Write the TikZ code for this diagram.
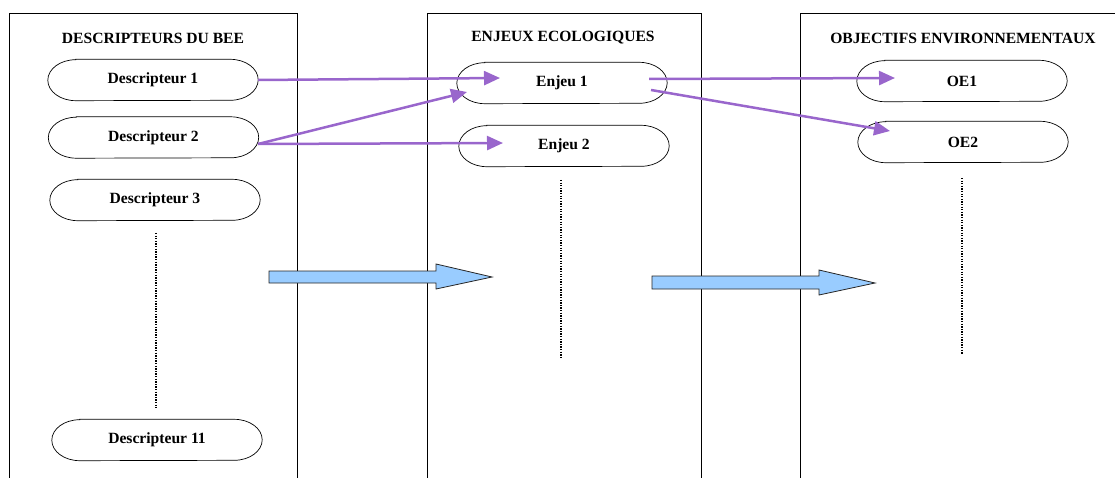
\documentclass[tikz,border=0pt]{standalone}
\usepackage{fontspec}
\setmainfont{Liberation Serif}
\usetikzlibrary{arrows.meta}
\definecolor{lien}{RGB}{153,102,204}
\definecolor{bleu}{RGB}{153,204,255}

\begin{document}
\begin{tikzpicture}[x=1pt,y=-1pt,
  pill/.style={minimum width=210pt,minimum height=41pt,
    font=\fontsize{15.6}{18}\selectfont\bfseries},
  titre/.style={font=\fontsize{15.6}{18}\selectfont\bfseries},
  lien/.style={draw=lien,line width=2.5pt,-{Triangle[length=16pt,width=14pt]}},
  fleche/.style={draw=black!85,fill=bleu,line width=0.8pt},
  pointille/.style={line width=1.3pt,dash pattern=on 1.3pt off 1.3pt}]
\useasboundingbox (0,0) rectangle (1115,478);

% les trois colonnes
\draw[line width=0.8pt] (9,478) -- (9,13) -- (297,13) -- (297,478);
\draw[line width=0.8pt] (427,478) -- (427,13) -- (701,13) -- (701,478);
\draw[line width=0.8pt] (800,478) -- (800,13) -- (1116,13);

\node[titre] (tD) at (153,38) {DESCRIPTEURS DU BEE};
\node[titre] (tE) at (563,38) {ENJEUX ECOLOGIQUES};
\node[titre] (tO) at (963,38) {OBJECTIFS ENVIRONNEMENTAUX};

% descripteurs
\node[pill] (D1) at (153,80) {Descripteur 1};
\node[pill] (D2) at (153.5,137.5) {Descripteur 2};
\node[pill] (D3) at (155,200) {Descripteur 3};
\node[pill] (D11) at (157,440) {Descripteur 11};

% enjeux
\node[pill] (E1) at (562,83) {Enjeu 1};
\node[pill] (E2) at (564,146) {Enjeu 2};

% objectifs
\node[pill] (OE1) at (962,81) {OE1};
\node[pill] (OE2) at (963,142) {OE2};

% contours a bouts elliptiques
\foreach \n in {D1,D2,D3,D11,E1,E2,OE1,OE2}
  \draw[line width=0.7pt] ([xshift=28pt]\n.north west) -- ([xshift=-28pt]\n.north east)
    arc[start angle=90,end angle=-90,x radius=28pt,y radius=20.5pt]
    -- ([xshift=28pt]\n.south west)
    arc[start angle=270,end angle=90,x radius=28pt,y radius=20.5pt] -- cycle;

% suites
\draw[pointille] (156,233) -- (156,408);
\draw[pointille] (561,180) -- (561,357);
\draw[pointille] (962,178) -- (962,354);

% liens
\coordinate (d1out) at (258,80);
\coordinate (d2out) at (258,144);
\coordinate (e1a) at (649,79);
\coordinate (e1b) at (651,90);
\coordinate (e1in) at (500,78);
\coordinate (e1bas) at (467,92);
\coordinate (e2in) at (503,143);
\coordinate (oe1in) at (895,78);
\coordinate (oe2in) at (890,131);
\draw[lien] (d1out) -- (e1in);
\draw[lien] (d2out) -- (e1bas);
\draw[lien] (d2out) -- (e2in);
\draw[lien] (e1a) -- (oe1in);
\draw[lien] (e1b) -- (oe2in);

% grosses fleches
\draw[fleche] (269,271) -- (436,271) -- (436,264) -- (492,277) -- (436,289) -- (436,283) -- (269,283) -- cycle;
\draw[fleche] (652,276) -- (819,276) -- (819,270) -- (875,283) -- (819,295) -- (819,289) -- (652,289) -- cycle;
\end{tikzpicture}
\end{document}
